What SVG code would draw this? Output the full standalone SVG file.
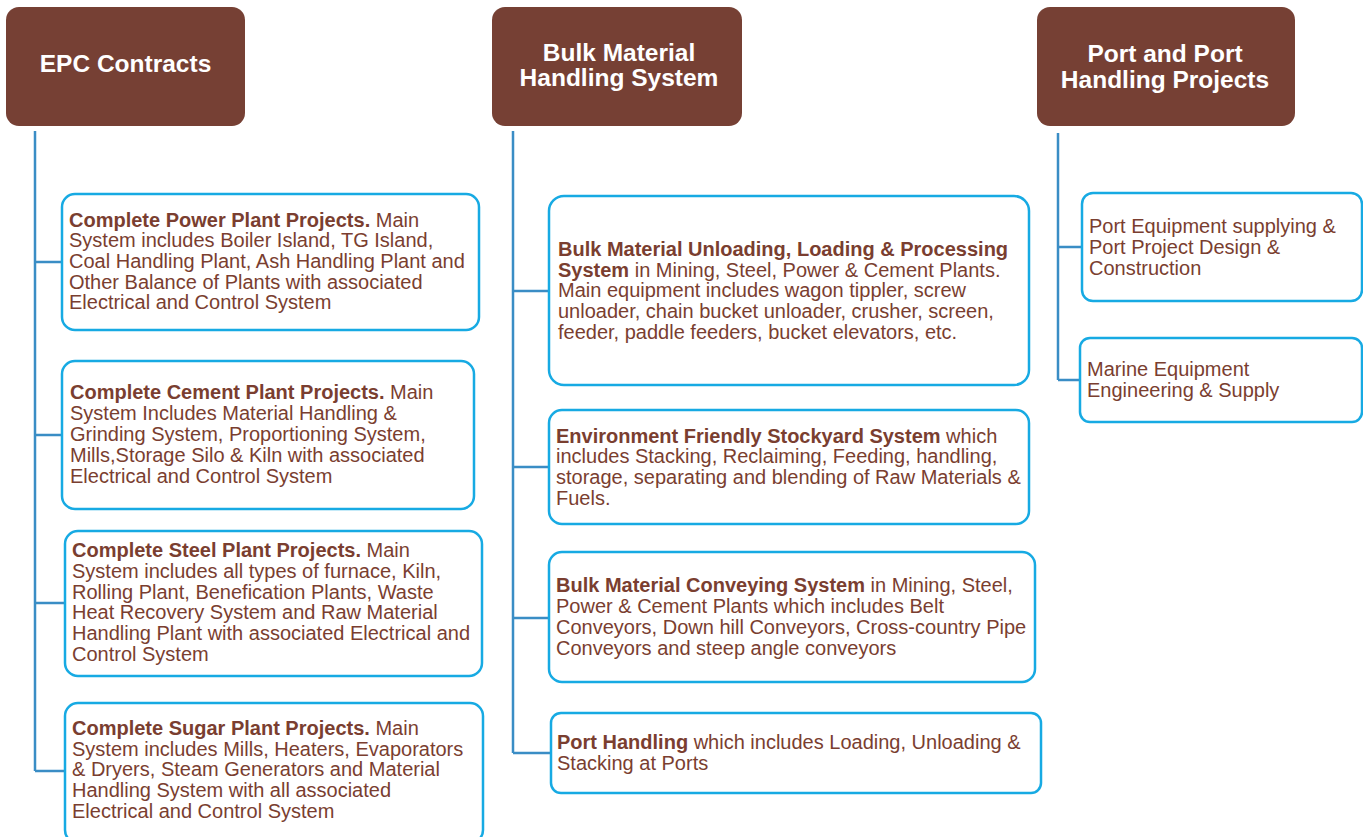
<svg xmlns="http://www.w3.org/2000/svg" width="1363" height="837" viewBox="0 0 1363 837">
<style>
.hdr{fill:#764034;}
.ht{fill:#ffffff;font-family:"Liberation Sans",Arial,sans-serif;font-weight:bold;font-size:24.5px;text-anchor:middle;}
.box{fill:#ffffff;stroke:#17aae3;stroke-width:2.5;}
.t{fill:#7a3e30;font-family:"Liberation Sans",Arial,sans-serif;font-size:20px;}
.b{font-weight:bold;}
.con{fill:none;stroke:#3a8dc5;stroke-width:2.5;}
</style>
<rect width="1363" height="837" fill="#ffffff"/>
<g id="connectors">
<path class="con" d="M35,131 V771 M35,262 H62 M35,435 H62 M35,603 H65 M35,771 H65"/>
<path class="con" d="M513,131 V753 M513,291 H549 M513,467 H549 M513,618 H549 M513,753 H551"/>
<path class="con" d="M1058,133 V380 M1058,247 H1082 M1058,380 H1080"/>
</g>
<g id="h-epc">
<rect class="hdr" x="6" y="7" width="239" height="119" rx="13"/>
<text class="ht" x="125.5" y="72">EPC Contracts</text>
</g>
<g id="h-bulk">
<rect class="hdr" x="492" y="7" width="250" height="119" rx="13"/>
<text class="ht" x="619" y="61">Bulk Material</text>
<text class="ht" x="619" y="86">Handling System</text>
</g>
<g id="h-port">
<rect class="hdr" x="1037" y="7" width="258" height="119" rx="13"/>
<text class="ht" x="1165" y="62">Port and Port</text>
<text class="ht" x="1165" y="88">Handling Projects</text>
</g>
<g id="n-power">
<rect class="box" x="62" y="194" width="417" height="136" rx="13"/>
<text class="t" x="69" y="227"><tspan class="b">Complete Power Plant Projects.</tspan> Main</text>
<text class="t" x="69" y="247">System includes Boiler Island, TG Island,</text>
<text class="t" x="69" y="268">Coal Handling Plant, Ash Handling Plant and</text>
<text class="t" x="69" y="289">Other Balance of Plants with associated</text>
<text class="t" x="69" y="309">Electrical and Control System</text>
</g>
<g id="n-cement">
<rect class="box" x="62" y="361" width="412" height="148" rx="13"/>
<text class="t" x="70" y="399"><tspan class="b">Complete Cement Plant Projects.</tspan> Main</text>
<text class="t" x="70" y="420">System Includes Material Handling &amp;</text>
<text class="t" x="70" y="441">Grinding System, Proportioning System,</text>
<text class="t" x="70" y="462">Mills,Storage Silo &amp; Kiln with associated</text>
<text class="t" x="70" y="483">Electrical and Control System</text>
</g>
<g id="n-steel">
<rect class="box" x="65" y="531" width="417" height="145" rx="13"/>
<text class="t" x="72" y="557"><tspan class="b">Complete Steel Plant Projects.</tspan> Main</text>
<text class="t" x="72" y="578">System includes all types of furnace, Kiln,</text>
<text class="t" x="72" y="599">Rolling Plant, Benefication Plants, Waste</text>
<text class="t" x="72" y="619">Heat Recovery System and Raw Material</text>
<text class="t" x="72" y="640">Handling Plant with associated Electrical and</text>
<text class="t" x="72" y="661">Control System</text>
</g>
<g id="n-sugar">
<rect class="box" x="65" y="703" width="418" height="140" rx="13"/>
<text class="t" x="72" y="735"><tspan class="b">Complete Sugar Plant Projects.</tspan> Main</text>
<text class="t" x="72" y="756">System includes Mills, Heaters, Evaporators</text>
<text class="t" x="72" y="776">&amp; Dryers, Steam Generators and Material</text>
<text class="t" x="72" y="797">Handling System with all associated</text>
<text class="t" x="72" y="818">Electrical and Control System</text>
</g>
<g id="n-unloading">
<rect class="box" x="549" y="196" width="480" height="189" rx="15"/>
<text class="t" x="558" y="256"><tspan class="b">Bulk Material Unloading, Loading &amp; Processing</tspan></text>
<text class="t" x="558" y="277"><tspan class="b">System</tspan> in Mining, Steel, Power &amp; Cement Plants.</text>
<text class="t" x="558" y="297">Main equipment includes wagon tippler, screw</text>
<text class="t" x="558" y="318">unloader, chain bucket unloader, crusher, screen,</text>
<text class="t" x="558" y="339">feeder, paddle feeders, bucket elevators, etc.</text>
</g>
<g id="n-stockyard">
<rect class="box" x="549" y="410" width="480" height="114" rx="13"/>
<text class="t" x="556" y="443"><tspan class="b">Environment Friendly Stockyard System</tspan> which</text>
<text class="t" x="556" y="463">includes Stacking, Reclaiming, Feeding, handling,</text>
<text class="t" x="556" y="484">storage, separating and blending of Raw Materials &amp;</text>
<text class="t" x="556" y="505">Fuels.</text>
</g>
<g id="n-conveying">
<rect class="box" x="549" y="552" width="486" height="130" rx="13"/>
<text class="t" x="556" y="592"><tspan class="b">Bulk Material Conveying System</tspan> in Mining, Steel,</text>
<text class="t" x="556" y="613">Power &amp; Cement Plants which includes Belt</text>
<text class="t" x="556" y="634">Conveyors, Down hill Conveyors, Cross-country Pipe</text>
<text class="t" x="556" y="655">Conveyors and steep angle conveyors</text>
</g>
<g id="n-porthandling">
<rect class="box" x="551" y="713" width="490" height="80" rx="10"/>
<text class="t" x="557" y="749"><tspan class="b">Port Handling</tspan> which includes Loading, Unloading &amp;</text>
<text class="t" x="557" y="770">Stacking at Ports</text>
</g>
<g id="n-portequip">
<rect class="box" x="1082" y="193" width="280" height="108" rx="11"/>
<text class="t" x="1089" y="233">Port Equipment supplying &amp;</text>
<text class="t" x="1089" y="254">Port Project Design &amp;</text>
<text class="t" x="1089" y="275">Construction</text>
</g>
<g id="n-marine">
<rect class="box" x="1080" y="338" width="282" height="84" rx="10"/>
<text class="t" x="1087" y="376">Marine Equipment</text>
<text class="t" x="1087" y="397">Engineering &amp; Supply</text>
</g>
</svg>
